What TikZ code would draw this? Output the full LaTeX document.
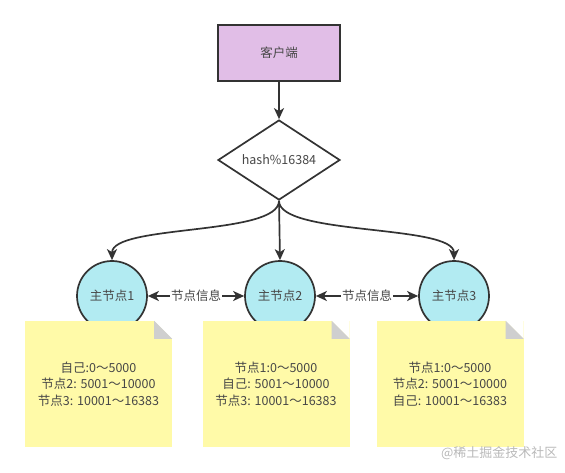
\documentclass[tikz,border=0pt]{standalone}
\usepackage{fontspec}
\setmainfont{Noto Sans CJK SC}
\usetikzlibrary{shapes.geometric,arrows.meta,positioning}
\definecolor{clientfill}{HTML}{E1BEE7}
\definecolor{masterfill}{HTML}{B2EBF2}
\definecolor{notefill}{HTML}{FFFAA8}
\definecolor{foldgrey}{HTML}{CFCFCF}
\definecolor{linegrey}{HTML}{333333}
\begin{document}
\begin{tikzpicture}[
    x=1pt, y=-1pt,
    every node/.append style={font=\fontsize{12.5}{16.5}\selectfont, text=linegrey!90, align=center},
    flow/.style={draw=linegrey, line width=1.7pt, -{Stealth[length=11pt, width=10pt, inset=3pt]}},
    sync/.style={draw=linegrey, line width=1.7pt, {Stealth[length=11pt, width=10pt, inset=3pt]}-{Stealth[length=11pt, width=10pt, inset=3pt]}},
    master/.style={circle, draw=linegrey, line width=1.7pt, fill=masterfill, minimum size=70pt, inner sep=0pt},
    note/.style={rectangle, fill=notefill, minimum width=147pt, minimum height=126pt, inner sep=0pt}
  ]
    \useasboundingbox (0,0) rectangle (565,473);
    % client and hash slot
    \node [rectangle, draw=linegrey, line width=1.7pt, fill=clientfill, minimum width=122pt, minimum height=56pt] (client) at (279,53) {客户端};
    \node [diamond, draw=linegrey, line width=1.7pt, fill=white, aspect=1.5, inner sep=0pt, minimum width=122pt, minimum height=80pt] (hash) at (279,160) {hash\%16384};
    % masters
    \node [master] (m1) at (112,296) {主节点1};
    \node [master] (m2) at (280,296) {主节点2};
    \node [master] (m3) at (454,296) {主节点3};
    \draw [flow] (client) -- (hash);
    \draw [flow] (hash.south) .. controls +(0,35) and +(0,-36) .. (m1.north);
    \draw [flow] (hash.south) -- (m2.north);
    \draw [flow] (hash.south) .. controls +(0,35) and +(0,-36) .. (m3.north);
    \draw [sync] (m1) -- node [fill=white, inner sep=1pt] (info12) {节点信息} (m2);
    \draw [sync] (m2) -- node [fill=white, inner sep=1pt] (info23) {节点信息} (m3);
    % slot notes
    \node [note] (n1) at (98.5,384) {自己:0～5000\\节点2: 5001～10000\\节点3: 10001～16383};
    \node [note] (n2) at (276,384) {节点1:0～5000\\自己: 5001～10000\\节点3: 10001～16383};
    \node [note] (n3) at (450,384) {节点1:0～5000\\节点2: 5001～10000\\自己: 10001～16383};
    \foreach \n in {n1,n2,n3} {
      \fill [white] ([xshift=-18pt]\n.north east) -- (\n.north east) -- ([yshift=-18pt]\n.north east) -- cycle;
      \fill [foldgrey] ([xshift=-18pt]\n.north east) -- ([yshift=-18pt]\n.north east) -- ([xshift=-18pt, yshift=-18pt]\n.north east) -- cycle;
    }
    \node [text=gray!55, font=\fontsize{13}{13}\selectfont, anchor=east] (mark) at (561,453) {@稀土掘金技术社区};
  \end{tikzpicture}
\end{document}
